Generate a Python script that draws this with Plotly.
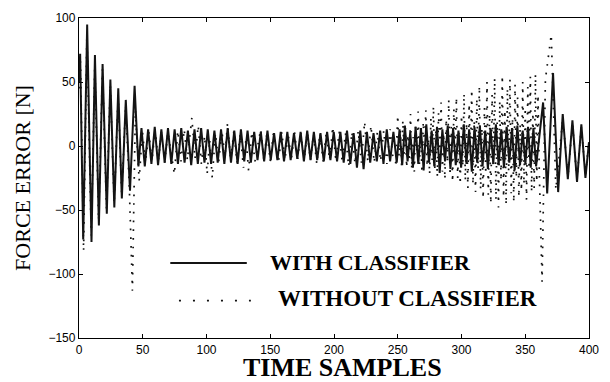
import plotly.graph_objects as go

# ---------------- data ----------------
# WITH CLASSIFIER: vertices (peaks / troughs) of the solid trace
with_x = [0, 0.9, 3.3, 6.4, 9.8, 12.5, 15.6, 18.5, 21.8, 24.6, 27.7, 30.8, 33.6, 36.7, 40.0, 43.6, 46.6,
          49.0, 51.6, 54.2, 56.8, 59.4, 62.0, 64.6, 67.2, 69.8, 72.4, 75.0, 77.6, 80.2, 82.8, 85.4, 88.0,
          90.6, 93.2, 95.8, 98.4, 101.0, 103.6, 106.2, 108.8, 111.4, 114.0, 116.6, 119.2, 121.8, 124.4,
          127.0, 129.6, 132.2, 134.8, 137.4, 140.0, 142.6, 145.2, 147.8, 150.4, 153.0, 155.6, 158.2, 160.8,
          163.4, 166.0, 168.6, 171.2, 173.8, 176.4, 179.0, 181.6, 184.2, 186.8, 189.4, 192.0, 194.6, 197.2,
          199.8, 202.4, 205.0, 207.6, 210.2, 212.8, 215.4, 218.0, 220.6, 223.2, 225.8, 228.4, 231.0, 233.6,
          236.2, 238.8, 241.4, 244.0, 246.6, 249.2,
          251.4, 253.5, 255.6, 257.7, 259.8, 261.9, 264.0, 266.1, 268.2, 270.3, 272.4, 274.5, 276.6, 278.7,
          280.8, 282.9, 285.0, 287.1, 289.2, 291.3, 293.4, 295.5, 297.6, 299.7, 301.8, 303.9, 306.0, 308.1,
          310.2, 312.3, 314.4, 316.5, 318.6, 320.7, 322.8, 324.9, 327.0, 329.1, 331.2, 333.3, 335.4, 337.5,
          339.6, 341.7, 343.8, 345.9, 348.0, 350.1, 352.2, 354.3, 356.4, 358.5,
          361.0, 364.0, 367.2, 371.8, 375.8, 379.4, 383.4, 387.0, 390.6, 394.0, 397.2, 400.0]
with_y = [50, 72, -73, 95, -75, 71, -62, 64, -53, 52, -48, 45, -41, 36, -35, 47, -16,
          14, -16, 13, -14, 15, -15, 13, -13, 14, -14, 13, -14, 14, -13, 12, -15,
          13, -14, 14, -13, 13, -14, 12, -13, 13, -14, 14, -13, 12, -14,
          13, -12, 12, -13, 11, -11, 11, -12, 12, -11, 10, -11, 11, -12,
          11, -11, 10, -10, 11, -12, 12, -11, 11, -11, 10, -12, 11, -11,
          11, -12, 11, -13, 12, -14, 10, -17, 12, -18, 11, -13, 10, -12,
          12, -14, 13, -12, 11, -13,
          13, -15, 16, -12, 11, -17, 15, -14, 14, -19, 17, -13, 12, -16,
          15, -21, 13, -12, 16, -18, 14, -15, 12, -17, 17, -14, 13, -20,
          15, -13, 16, -16, 12, -18, 14, -14, 17, -15, 13, -17, 15, -13,
          14, -19, 16, -15, 12, -14, 15, -17, 14, -16,
          8, 34, -37, 57, -36, 25, -26, 20, -28, 17, -25, 3]

# WITHOUT CLASSIFIER: vertices of the dotted trace
without_x = [0, 1.2, 3.6, 6.2, 9.6, 12.4, 15.4, 18.4, 21.6, 24.5, 27.6, 30.7, 33.5, 36.6, 39.4, 41.9, 44.2, 47.2,
             49.7, 52.2, 54.7, 57.2, 59.7, 62.2, 64.7, 67.2, 69.7, 74.8, 77.5, 80.0, 82.5, 85.0, 88.5, 91.0,
             93.5, 96.0, 98.5, 100.5, 102.5, 104.5, 107.0, 109.5, 112.0, 114.5, 116.5, 119.0, 121.5, 124.0,
             126.5, 129.0, 131.0, 133.0, 135.5, 138.0, 142.5, 145.0, 147.5, 150.0, 152.5, 156.5, 159.0, 161.5,
             164.0, 166.5, 169.0, 171.5, 174.0, 176.5, 179.0, 181.5, 184.0, 186.5, 189.0, 191.5, 194.0, 196.5,
             199.0, 201.5, 204.0, 206.5, 209.0, 211.5, 214.0, 216.5, 219.0, 221.5, 224.0, 226.5, 229.0, 231.5,
             234.0, 236.5, 239.0, 241.5, 244.0, 246.5, 248.5,
             250, 251, 252, 253, 254, 255, 256, 257, 258, 259, 260, 261, 262, 263, 264, 265, 266, 267, 268, 269,
             270, 271, 272, 273, 274, 275, 276, 277, 278, 279, 280, 281, 282, 283, 284, 285, 286, 287, 288, 289,
             290, 291, 292, 293, 294, 295, 296, 297, 298, 299, 300, 301, 302, 303, 304, 305, 306, 307, 308, 309,
             310, 311, 312, 313, 314, 315, 316, 317, 318, 319, 320, 321, 322, 323, 324, 325, 326, 327, 328, 329,
             330, 331, 332, 333, 334, 335, 336, 337, 338, 339, 340, 341, 342, 343, 344, 345, 346, 347, 348, 349,
             350, 351, 352, 353, 354, 355, 356, 357, 358, 359, 360, 361,
             363.2, 365.8, 370.4, 374.0, 379.5, 383.5, 387.0, 390.5, 394.0, 397.2, 400.0]
without_y = [45, 66, -82, 88, -70, 64, -58, 60, -50, 48, -45, 40, -38, 32, -30, -113, 28, -27,
             12, -13, 11, -12, 13, -12, 12, -13, 11, -22, 12, -12, 13, -11, 22, -10,
             16, -14, 8, -22, 5, -25, 10, -13, 12, -8, 18, -12, 12, -13,
             9, -17, 6, -19, 11, -12, 13, -11, 11, -12, 10, -13, 11, -11,
             10, -11, 11, -10, 10, -12, 11, -11, 9, -14, 10, -12, 11, -11,
             15, -12, 11, -13, 10, -16, 11, -14, 12, -13, 19, -12, 16, -13,
             11, -12, 12, -14, 13, -12, -13,
             24, -8, 12, -15, 20, -6, 14, -17, 9, -12, 25, -18, 7, -20, 16, -5, 27, -14, 11, -21,
             19, -9, 28, -16, 6, -22, 22, -11, 31, -19, 13, -24, 26, -7, 34, -20, 10, -26, 21, -13,
             36, -23, 15, -28, 29, -10, 38, -25, 12, -30, 24, -16, 41, -27, 18, -33, 33, -12, 44, -30,
             20, -36, 37, -18, 47, -34, 14, -41, 30, -22, 50, -38, 25, -45, 40, -15, 53, -42, 19, -48,
             35, -27, 55, -40, 28, -46, 45, -20, 52, -37, 22, -44, 48, -25, 38, -40, 17, -35, 50, -30,
             30, -42, 46, -18, 54, -36, 26, -33, 56, -28, 40, -20,
             -106, 52, 87, -34, 22, -24, 18, -26, 15, -23, 4]

x_ticks = [0, 50, 100, 150, 200, 250, 300, 350, 400]
y_ticks = [-150, -100, -50, 0, 50, 100]
legend_labels = ["WITH CLASSIFIER", "WITHOUT CLASSIFIER"]

# ---------------- figure ----------------
fig = go.Figure()
fig.add_trace(go.Scatter(x=without_x, y=without_y, mode="lines", name=legend_labels[1],
                         line=dict(color="#111111", width=1.7, dash="1.7px,7px"), showlegend=False))
fig.add_trace(go.Scatter(x=with_x, y=with_y, mode="lines", name=legend_labels[0],
                         line=dict(color="#141414", width=2), showlegend=False))

axis_common = dict(showgrid=False, zeroline=False, showline=True, linecolor="black", linewidth=1.3,
                   mirror="ticks", ticks="inside", ticklen=4, tickwidth=1.2, tickcolor="black",
                   tickfont=dict(family="Liberation Sans, Arial, sans-serif", size=12, color="black"))
fig.update_xaxes(range=[0, 400], tickvals=x_ticks, **axis_common)
fig.update_yaxes(range=[-150, 100], tickvals=y_ticks, **axis_common)

serif = "Liberation Serif, Times New Roman, serif"
annotations = [
    dict(text="TIME SAMPLES", x=0.517, y=-0.092, xref="paper", yref="paper", showarrow=False,
         xanchor="center", yanchor="middle", font=dict(family=serif, size=26, color="black", weight="bold")),
    dict(text="FORCE ERROR [N]", x=-0.112, y=0.5, xref="paper", yref="paper", showarrow=False,
         textangle=-90, xanchor="center", yanchor="middle", font=dict(family=serif, size=22, color="black")),
    dict(text=legend_labels[0], x=0.371, y=0.236, xref="paper", yref="paper", showarrow=False,
         xanchor="left", yanchor="middle", font=dict(family=serif, size=22, color="black", weight="bold")),
    dict(text=legend_labels[1], x=0.386, y=0.122, xref="paper", yref="paper", showarrow=False,
         xanchor="left", yanchor="middle", font=dict(family=serif, size=23, color="black", weight="bold")),
]
shapes = [
    dict(type="line", xref="paper", yref="paper", x0=0.179, x1=0.329, y0=0.234, y1=0.234,
         line=dict(color="#141414", width=2)),
    dict(type="line", xref="paper", yref="paper", x0=0.196, x1=0.337, y0=0.117, y1=0.117,
         line=dict(color="#111111", width=1.8, dash="2px,12px")),
]

fig.update_layout(width=610, height=382, margin=dict(l=79, r=11, t=16, b=44),
                  paper_bgcolor="white", plot_bgcolor="white", showlegend=False,
                  annotations=annotations, shapes=shapes)

fig.write_html("out.html", config={"displayModeBar": False},
               post_script="document.body.style.margin='0px';")
